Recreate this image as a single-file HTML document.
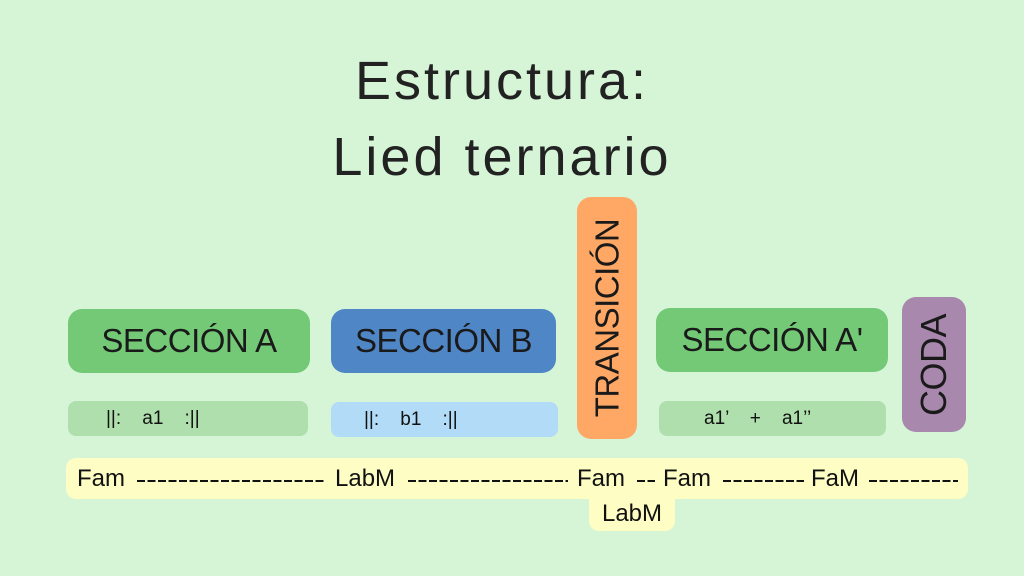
<!DOCTYPE html>
<html><head><style>
body{margin:0;width:1024px;height:576px;background:#d6f5d7;position:relative;overflow:hidden;font-family:"Liberation Sans",sans-serif;color:#111}
.b{position:absolute;border-radius:14px;display:flex;align-items:center;justify-content:center}
.t{font-size:33px;letter-spacing:-0.5px;color:#1a1a1a}
.s{font-size:19px;white-space:pre}
.title{position:absolute;left:0;width:1004px;text-align:center;font-size:54px;color:#222;letter-spacing:3px}
.v{transform:rotate(-90deg);white-space:nowrap}
.y{position:absolute;top:465px;font-size:24px;white-space:pre}
.d{position:absolute;top:480px;height:2px;background:repeating-linear-gradient(90deg,#111 0 8px,transparent 8px 10.5px)}
</style></head><body>
<div class="title" style="top:50px">Estructura:</div>
<div class="title" style="top:126px">Lied ternario</div>

<div class="b t" style="left:68px;top:309px;width:242px;height:64px;background:#74c977">SECCIÓN A</div>
<div class="b t" style="left:331px;top:309px;width:225px;height:64px;background:#4f86c6">SECCIÓN B</div>
<div class="b" style="left:577px;top:197px;width:60px;height:242px;background:#ffa866"><div class="v t">TRANSICIÓN</div></div>
<div class="b t" style="left:656px;top:308px;width:232px;height:64px;background:#74c977">SECCIÓN A'</div>
<div class="b" style="left:902px;top:297px;width:64px;height:135px;background:#a888ad"><div class="v t" style="font-size:36px">CODA</div></div>

<div class="b s" style="left:68px;top:401px;width:240px;height:35px;background:#aedfac;border-radius:8px;justify-content:flex-start"><span style="margin-left:38px">||:    a1    :||</span></div>
<div class="b s" style="left:331px;top:402px;width:227px;height:35px;background:#b2dbf8;border-radius:8px;justify-content:flex-start"><span style="margin-left:33px">||:    b1    :||</span></div>
<div class="b s" style="left:659px;top:401px;width:227px;height:35px;background:#aedfac;border-radius:8px;justify-content:flex-start"><span style="margin-left:45px">a1’    +    a1’’</span></div>

<div class="b" style="left:66px;top:458px;width:902px;height:41px;background:#fdfdc4;border-radius:10px"></div>
<div class="b" style="left:589px;top:497px;width:86px;height:34px;background:#fdfdc4;border-radius:0 0 10px 10px;font-size:24px">LabM</div>
<span class="y" style="left:77px">Fam</span>
<div class="d" style="left:137px;width:188px"></div>
<span class="y" style="left:335px">LabM</span>
<div class="d" style="left:408px;width:160px"></div>
<span class="y" style="left:577px">Fam</span>
<div class="d" style="left:637px;width:18px"></div>
<span class="y" style="left:663px">Fam</span>
<div class="d" style="left:723px;width:81px"></div>
<span class="y" style="left:811px">FaM</span>
<div class="d" style="left:869px;width:89px"></div>
</body></html>
